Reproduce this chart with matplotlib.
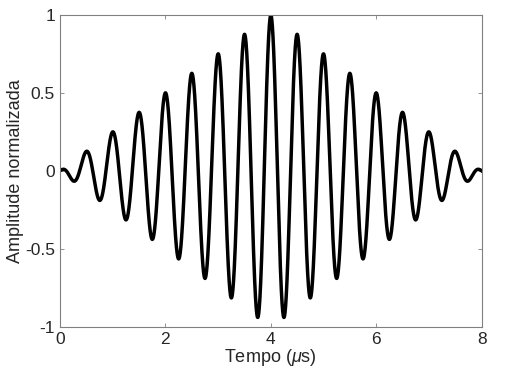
import numpy as np
import matplotlib
matplotlib.use('Agg')
import matplotlib.pyplot as plt

plt.rcParams['font.family'] = ['Liberation Sans', 'DejaVu Sans']
plt.rcParams['mathtext.fontset'] = 'custom'
plt.rcParams['mathtext.it'] = 'Liberation Sans:italic'

# parametros do sinal
duracao = 8.0          # us
f_portadora = 2.0      # MHz (periodo de 0.5 us)
t_pico = 4.0           # us, centro da janela triangular
amp_pico = 1.0

x_ticks = [0, 2, 4, 6, 8]
y_ticks = [-1, -0.5, 0, 0.5, 1]
y_ticklabels = ['-1', '-0.5', '0', '0.5', '1']

t = np.linspace(0, duracao, 4000)
env = amp_pico * (1 - np.abs(t - t_pico) / t_pico)
s = env * np.cos(2 * np.pi * f_portadora * (t - t_pico))

fig = plt.figure(figsize=(5.11, 3.80), dpi=100)
ax = fig.add_axes([0.117, 0.139, 0.826, 0.822])
ax.plot(t, s, color='k', linewidth=2.5)

ax.set_xlim(0, 8)
ax.set_ylim(-1, 1)
ax.set_xticks(x_ticks)
ax.set_yticks(y_ticks)
ax.set_yticklabels(y_ticklabels)
ax.tick_params(direction='in', top=True, right=True, length=3,
               width=0.6, colors='#808080', labelcolor='#262626', labelsize=12.5)
for sp in ax.spines.values():
    sp.set_color('#808080')
    sp.set_linewidth(0.8)

ax.set_xlabel(r'Tempo ($\mu$s)', fontsize=13, color='#262626', labelpad=0)
ax.set_ylabel('Amplitude normalizada', fontsize=13, color='#262626', labelpad=1)

fig.savefig('out.png', dpi=100)
